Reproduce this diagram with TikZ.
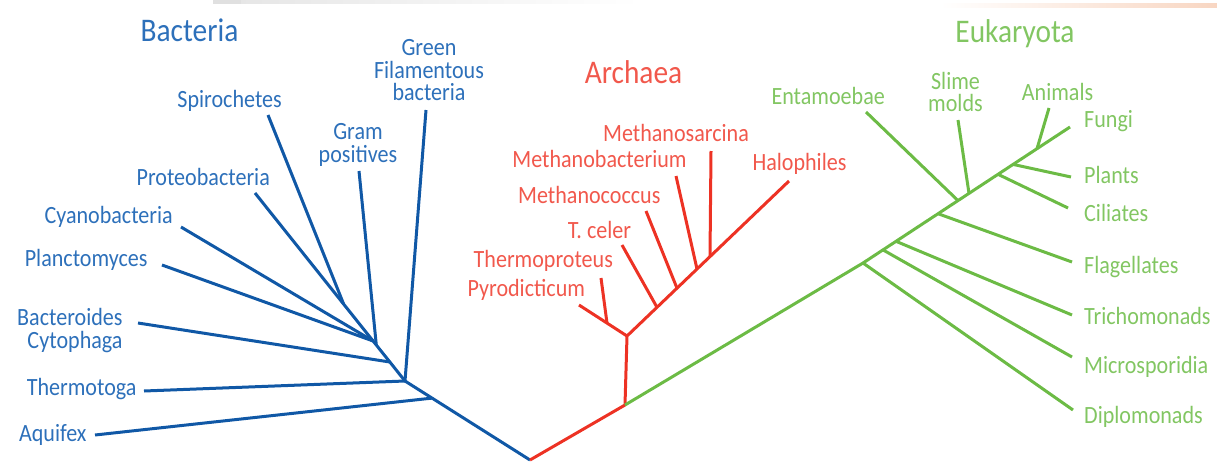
\documentclass[tikz,border=0pt]{standalone}
\usepackage{fontspec}
\setmainfont{Carlito}[FakeStretch=0.89]
\definecolor{blueline}{RGB}{16,88,166}
\definecolor{bluetext}{RGB}{45,112,186}
\definecolor{redline}{RGB}{237,50,36}
\definecolor{redtext}{RGB}{241,88,76}
\definecolor{greenline}{RGB}{108,187,69}
\definecolor{greentext}{RGB}{130,198,98}
\definecolor{topgray}{RGB}{224,224,224}
\definecolor{toppeach}{RGB}{248,214,194}
\begin{document}
\begin{tikzpicture}[x=1pt,y=-1pt,
  branch/.style={line width=3pt,line join=round},
  bbr/.style={branch,draw=blueline},
  rbr/.style={branch,draw=redline},
  gbr/.style={branch,draw=greenline},
  lab/.style={inner sep=0pt,font=\fontsize{24.8}{22.3}\selectfont},
  ttl/.style={inner sep=0pt,font=\fontsize{33}{36}\selectfont},
  blab/.style={lab,text=bluetext},
  rlab/.style={lab,text=redtext},
  glab/.style={lab,text=greentext}]
\useasboundingbox (0,0) rectangle (1217,466);
% faint top strips
\fill[topgray] (213,0) rectangle (241,4);
\shade[left color=topgray!80,right color=white] (241,0) rectangle (640,3);
\shade[left color=white,right color=toppeach] (940,3) rectangle (1217,7);

% ---------- titles ----------
\node[ttl,text=bluetext,anchor=base] (tbac) at (189.5,41) {Bacteria};
\node[ttl,text=redtext,anchor=base] (tarc) at (633.5,83) {Archaea};
\node[ttl,text=greentext,anchor=base] (teuk) at (1015,42.7) {Eukaryota};

% ---------- Bacteria ----------
\coordinate (root) at (530,460);
\coordinate (baq) at (432,398.1);
\coordinate (bth) at (405,381);
\coordinate (bbc) at (389.8,362);
\coordinate (bgr) at (376.3,345);
\coordinate (bcy) at (373.1,341);
\coordinate (bsp) at (343.6,304);
\coordinate (eproteo) at (255,193);
\coordinate (espiro) at (268,115);
\coordinate (egram) at (359,171);
\coordinate (egreen) at (426,110);
\coordinate (ecyano) at (181,227);
\coordinate (eplanc) at (162,265);
\coordinate (ebact) at (138,323);
\coordinate (etherm) at (144,391);
\coordinate (eaquif) at (95,435);

\draw[bbr] (root) -- (bth) -- (eproteo);
\draw[bbr] (baq) -- (eaquif);
\draw[bbr] (bth) -- (etherm);
\draw[bbr] (bth) -- (egreen);
\draw[bbr] (bbc) -- (ebact);
\draw[bbr] (bgr) -- (egram);
\draw[bbr] (bcy) -- (ecyano);
\draw[bbr] (bcy) -- (eplanc);
\draw[bbr] (bsp) -- (espiro);

\node[blab,anchor=base east] (lspiro) at (282,107.4) {Spirochetes};
\node[blab,anchor=base east] (lproteo) at (270,185.7) {Proteobacteria};
\node[blab,anchor=base east] (lcyano) at (173,223) {Cyanobacteria};
\node[blab,anchor=base east] (lplanc) at (147.7,266.7) {Planctomyces};
\node[blab,anchor=base east,text width=130pt,align=right] (lbact) at (122.7,325.7) {Bacteroides\\Cytophaga};
\node[blab,anchor=base east] (ltherm) at (136.7,395.7) {Thermotoga};
\node[blab,anchor=base east] (laquif) at (86.7,441.7) {Aquifex};
\node[blab,anchor=base,text width=100pt,align=center] (lgram) at (358,139.7) {Gram\\positives};
\node[blab,anchor=base,text width=150pt,align=center] (lgreen) at (429,55.7) {Green\\Filamentous\\bacteria};

% ---------- Archaea ----------
\coordinate (r0) at (625,405);
\coordinate (r1) at (627,336);
\coordinate (ehalo) at (789,181);
\coordinate (rsar) at (710,256.6);
\coordinate (rbac) at (697,269.0);
\coordinate (rcoc) at (677,288.2);
\coordinate (rcel) at (657,307.3);
\coordinate (epyro) at (579,305);
\coordinate (rthp) at (607,323.1);
\coordinate (esar) at (711,151);
\coordinate (ebac) at (676,176);
\coordinate (ecoc) at (646,211);
\coordinate (ecel) at (622,245);
\coordinate (ethp) at (601,278);

\draw[rbr] (root) -- (r0) -- (r1) -- (ehalo);
\draw[rbr] (r1) -- (epyro);
\draw[rbr] (rthp) -- (ethp);
\draw[rbr] (rcel) -- (ecel);
\draw[rbr] (rcoc) -- (ecoc);
\draw[rbr] (rbac) -- (ebac);
\draw[rbr] (rsar) -- (esar);

\node[rlab,anchor=base] (lsar) at (676,141.7) {Methanosarcina};
\node[rlab,anchor=base] (lbac) at (599.5,167.3) {Methanobacterium};
\node[rlab,anchor=base] (lhalo) at (799.5,170) {Halophiles};
\node[rlab,anchor=base] (lcoc) at (589.3,203.3) {Methanococcus};
\node[rlab,anchor=base] (lcel) at (599.5,238.3) {T. celer};
\node[rlab,anchor=base] (lthp) at (543.3,267.3) {Thermoproteus};
\node[rlab,anchor=base] (lpyro) at (526.3,296.7) {Pyrodicticum};

% ---------- Eukaryota ----------
\coordinate (g1) at (863,263);
\coordinate (gmic) at (883,249.9);
\coordinate (gtri) at (896,241.3);
\coordinate (gfla) at (938,213.7);
\coordinate (gent) at (958,200.6);
\coordinate (gsli) at (969,193.4);
\coordinate (gcil) at (998,174.3);
\coordinate (gpla) at (1013,164.4);
\coordinate (gani) at (1037,148.7);
\coordinate (efun) at (1070,127);
\coordinate (edip) at (1073,410);
\coordinate (emic) at (1072,357);
\coordinate (etri) at (1072,315);
\coordinate (efla) at (1072,262);
\coordinate (eent) at (866,112);
\coordinate (esli) at (958,120);
\coordinate (ecil) at (1068,208);
\coordinate (epla) at (1071,177);
\coordinate (eani) at (1049,108);

\draw[gbr] (r0) -- (g1) -- (efun);
\draw[gbr] (g1) -- (edip);
\draw[gbr] (gmic) -- (emic);
\draw[gbr] (gtri) -- (etri);
\draw[gbr] (gfla) -- (efla);
\draw[gbr] (gent) -- (eent);
\draw[gbr] (gsli) -- (esli);
\draw[gbr] (gcil) -- (ecil);
\draw[gbr] (gpla) -- (epla);
\draw[gbr] (gani) -- (eani);

\node[glab,anchor=base east] (lent) at (885,104) {Entamoebae};
\node[glab,anchor=base,text width=100pt,align=center] (lsli) at (955.5,89.3) {Slime\\molds};
\node[glab,anchor=base west] (lani) at (1021.7,100.7) {Animals};
\node[glab,anchor=base west] (lfun) at (1084,127.7) {Fungi};
\node[glab,anchor=base west] (lpla) at (1084,183.3) {Plants};
\node[glab,anchor=base west] (lcil) at (1084,221.7) {Ciliates};
\node[glab,anchor=base west] (lfla) at (1084,273.3) {Flagellates};
\node[glab,anchor=base west] (ltri) at (1084,324) {Trichomonads};
\node[glab,anchor=base west] (lmic) at (1084,373.3) {Microsporidia};
\node[glab,anchor=base west] (ldip) at (1084,423.3) {Diplomonads};
\end{tikzpicture}
\end{document}
